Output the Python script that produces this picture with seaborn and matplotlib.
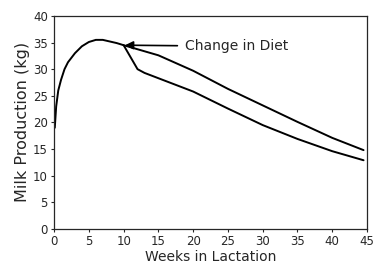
import matplotlib
matplotlib.use('Agg')
import matplotlib.pyplot as plt
import seaborn as sns
import pandas as pd

# shared rising part of the lactation curve (weeks, kg)
rise_weeks = [0.1, 0.3, 0.6, 1, 1.5, 2, 3, 4, 5, 6, 7, 8, 9, 10]
rise_milk = [19, 23, 26, 28, 30, 31.3, 33, 34.3, 35.1, 35.5, 35.5, 35.2, 34.9, 34.5]

# original diet after week 10
upper_weeks = [10, 15, 20, 25, 30, 35, 40, 44.5]
upper_milk = [34.5, 32.6, 29.7, 26.3, 23.2, 20.1, 17.1, 14.8]

# changed diet after week 10
lower_weeks = [10, 12, 13, 15, 20, 25, 30, 35, 40, 44.5]
lower_milk = [34.5, 30.0, 29.3, 28.3, 25.8, 22.6, 19.5, 16.9, 14.6, 12.9]

x_ticks = [0, 5, 10, 15, 20, 25, 30, 35, 40, 45]
y_ticks = [0, 5, 10, 15, 20, 25, 30, 35, 40]

sns.set_style('ticks')
plt.rcParams['font.family'] = ['DejaVu Sans']

up = pd.DataFrame({'week': rise_weeks + upper_weeks[1:], 'milk': rise_milk + upper_milk[1:]})
lo = pd.DataFrame({'week': lower_weeks, 'milk': lower_milk})

fig = plt.figure(figsize=(3.73, 2.65), dpi=100)
ax = fig.add_axes([0.145, 0.136, 0.839, 0.804])

sns.lineplot(data=up, x='week', y='milk', sort=False, color='black', lw=1.4, ax=ax)
sns.lineplot(data=lo, x='week', y='milk', sort=False, color='black', lw=1.4, ax=ax)

ax.set_xlim(0, 45)
ax.set_ylim(0, 40)
ax.set_xticks(x_ticks)
ax.set_yticks(y_ticks)
ax.tick_params(labelsize=8.5, length=2.5, width=0.8, pad=2)
for s in ax.spines.values():
    s.set_visible(True)
    s.set_linewidth(0.9)

# reference crops this label at the bottom edge; keep it just inside
ax.set_xlabel('Weeks in Lactation', fontsize=10, labelpad=1)
ax.set_ylabel('Milk Production (kg)', fontsize=11.5, labelpad=2)

ax.annotate('Change in Diet', xy=(10.2, 34.5), xytext=(18.8, 34.3),
            fontsize=10, ha='left', va='center',
            arrowprops=dict(arrowstyle='-|>', color='black', lw=1.2,
                            mutation_scale=12, shrinkA=3, shrinkB=0))

fig.savefig('out.png', dpi=100)
